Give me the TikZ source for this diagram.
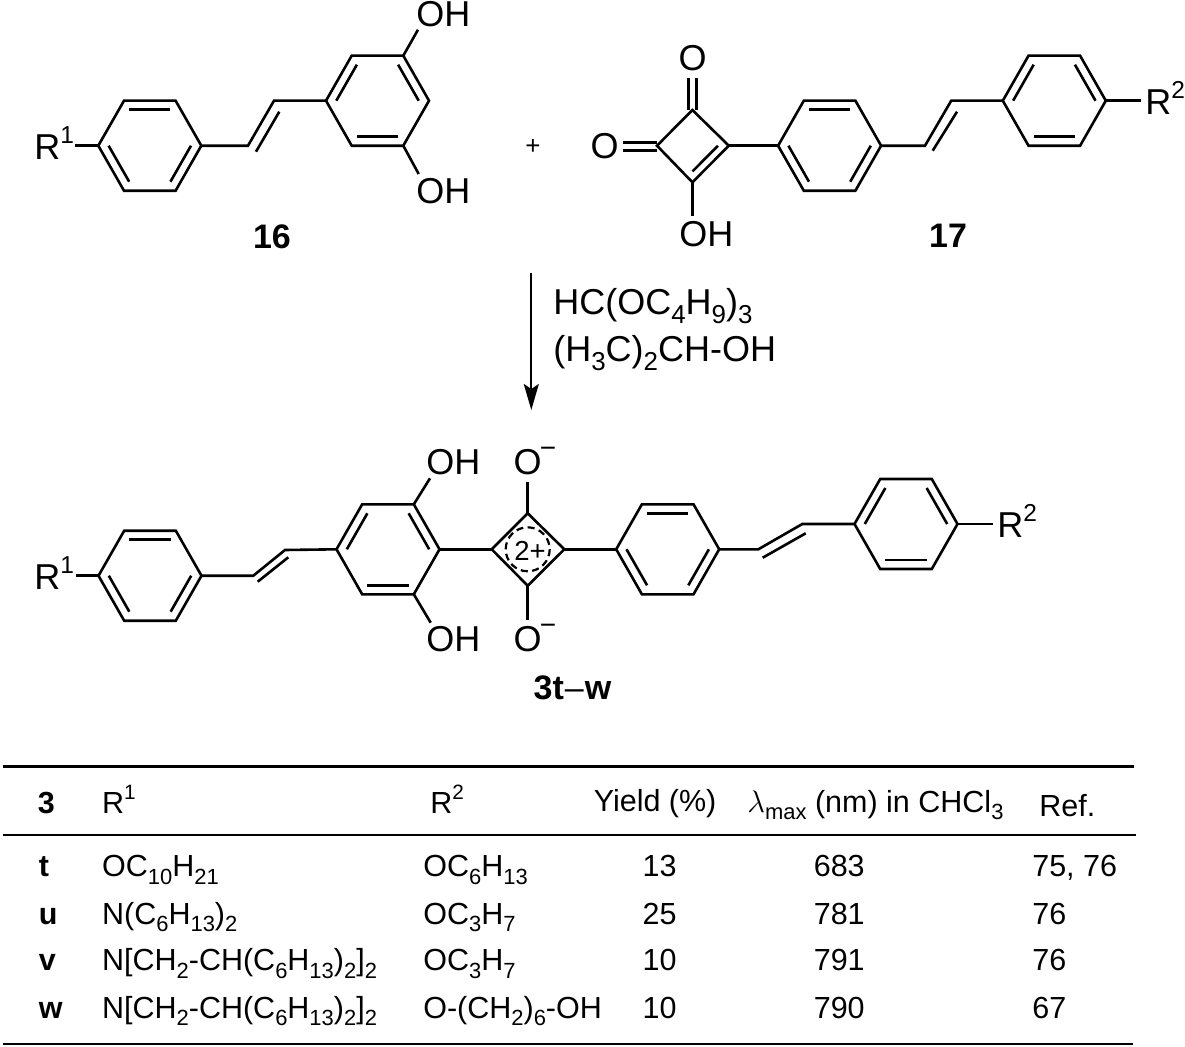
\documentclass[tikz,border=0pt]{standalone}
\usepackage{fontspec}
\setmainfont{Liberation Sans}
\usetikzlibrary{calc,arrows.meta}

\newcommand{\lo}[1]{\raisebox{-.25em}{\scalebox{.72}{#1}}}
\newcommand{\hi}[1]{\raisebox{.44em}{\scalebox{.68}{#1}}}

% six corners and the middle of a ring, then its outline
\newcommand{\hexring}[3]{
  \coordinate (#1c) at (#2,#3);
  \coordinate (#1w) at ({#2-51.5},#3);
  \coordinate (#1nw) at ({#2-25.8},{#3-45});
  \coordinate (#1ne) at ({#2+25.8},{#3-45});
  \coordinate (#1e) at ({#2+51.5},#3);
  \coordinate (#1se) at ({#2+25.8},{#3+45});
  \coordinate (#1sw) at ({#2-25.8},{#3+45});
  \draw (#1w) -- (#1nw) -- (#1ne) -- (#1e) -- (#1se) -- (#1sw) -- cycle;
}
% inner line of a double bond
\newcommand{\inbond}[3]{\draw ($(#1)!.2!(#3)$) -- ($(#2)!.2!(#3)$);}

\tikzset{
  atomlabel/.style={inner sep=0pt,anchor=base west,font=\fontsize{36}{40}\selectfont},
  reagent/.style={inner sep=0pt,anchor=base west,font=\fontsize{36}{40}\selectfont},
  compound/.style={inner sep=0pt,anchor=base,font=\fontsize{34}{40}\selectfont\bfseries},
  cell/.style={inner sep=0pt,anchor=base west,font=\fontsize{30.5}{36}\selectfont},
  midcell/.style={cell,anchor=base},
  boldcell/.style={cell,font=\fontsize{30.5}{36}\selectfont\bfseries},
  rulerow/.style={line width=2.5pt}
}

\begin{document}
\begin{tikzpicture}[x=1pt,y=-1pt,line width=2.6pt]

  \useasboundingbox (0,0) rectangle (1185,1046);

  % compound 16
  \hexring{A}{149.8}{145.7}
  \hexring{B}{377.5}{100.7}
  \inbond{Anw}{Ane}{Ac}
  \inbond{Aw}{Asw}{Ac}
  \inbond{Ae}{Ase}{Ac}
  \inbond{Bw}{Bnw}{Bc}
  \inbond{Bne}{Be}{Bc}
  \inbond{Bse}{Bsw}{Bc}
  \coordinate (Aone) at (248,145.7);
  \coordinate (Atwo) at (274,100.7);
  \coordinate (Aonei) at (256,151.7);
  \coordinate (Atwoi) at (279.3,111.7);
  \coordinate (Ara) at (75,145.7);
  \coordinate (Boh) at (418,29.7);
  \coordinate (Bohb) at (418.7,174);
  \draw (Ae) -- (Aone) -- (Atwo) -- (Bw);
  \draw (Aonei) -- (Atwoi);
  \draw (Ara) -- (Aw);
  \draw (Bne) -- (Boh);
  \draw (Bse) -- (Bohb);
  \node[atomlabel] (ra) at (33,159) {R\hi{1}};
  \node[atomlabel] (oha) at (415,27) {OH};
  \node[atomlabel] (ohb) at (415,203) {OH};
  \node[compound] (cpa) at (272,248) {16};

  \node[inner sep=0pt,font=\fontsize{26}{30}\selectfont] (plus) at (533,147) {+};

  % compound 17
  \coordinate (Qn) at (692.4,110);
  \coordinate (Qw) at (657,145.7);
  \coordinate (Qe) at (728.8,145.7);
  \coordinate (Qs) at (692.4,182.3);
  \coordinate (Qc) at (692.6,146);
  \draw (Qn) -- (Qe) -- (Qs) -- (Qw) -- cycle;
  \draw ($(Qe)!.3!(Qc)$) -- ($(Qs)!.3!(Qc)$);
  \coordinate (Qna) at (688.4,110);
  \coordinate (Qnb) at (696.7,110);
  \coordinate (Ona) at (688.4,78.3);
  \coordinate (Onb) at (696.7,78.3);
  \coordinate (Qwa) at (657,142.3);
  \coordinate (Qwb) at (657,150.3);
  \coordinate (Owa) at (623,142.3);
  \coordinate (Owb) at (623,150.3);
  \coordinate (Qoh) at (692.4,216);
  \draw (Qna) -- (Ona);
  \draw (Qnb) -- (Onb);
  \draw (Qwa) -- (Owa);
  \draw (Qwb) -- (Owb);
  \draw (Qs) -- (Qoh);
  \hexring{C}{829.6}{145.7}
  \hexring{D}{1054.3}{100.7}
  \inbond{Cnw}{Cne}{Cc}
  \inbond{Cw}{Csw}{Cc}
  \inbond{Ce}{Cse}{Cc}
  \inbond{Dw}{Dnw}{Dc}
  \inbond{Dne}{De}{Dc}
  \inbond{Dse}{Dsw}{Dc}
  \coordinate (Cone) at (925,145.7);
  \coordinate (Ctwo) at (951.2,100.7);
  \coordinate (Conei) at (932.7,150.7);
  \coordinate (Ctwoi) at (957,111.7);
  \coordinate (Drb) at (1140.6,100.7);
  \draw (Qe) -- (Cw);
  \draw (Ce) -- (Cone) -- (Ctwo) -- (Dw);
  \draw (Conei) -- (Ctwoi);
  \draw (De) -- (Drb);
  \node[atomlabel,anchor=base] (ot) at (692.5,70.5) {O};
  \node[atomlabel,anchor=base] (ol) at (604.5,158) {O};
  \node[atomlabel] (ohc) at (678,246.7) {OH};
  \node[atomlabel] (rb) at (1144,114) {R\hi{2}};
  \node[compound] (cpb) at (948,247) {17};

  % arrow
  \coordinate (arrowtop) at (531.3,273);
  \coordinate (arrowtip) at (531.3,410);
  \draw[-{Stealth[length=26pt,width=15pt,inset=5pt]},line width=2.2pt] (arrowtop) -- (arrowtip);
  \node[reagent] (rga) at (552,314) {HC(OC\lo{4}H\lo{9})\lo{3}};
  \node[reagent] (rgb) at (552,361.7) {(H\lo{3}C)\lo{2}CH-OH};

  % product 3
  \hexring{E}{150}{575.7}
  \hexring{F}{388}{549.3}
  \hexring{G}{667.7}{549.3}
  \hexring{H}{906}{524}
  \inbond{Enw}{Ene}{Ec}
  \inbond{Ew}{Esw}{Ec}
  \inbond{Ee}{Ese}{Ec}
  \inbond{Fw}{Fnw}{Fc}
  \inbond{Fne}{Fe}{Fc}
  \inbond{Fse}{Fsw}{Fc}
  \inbond{Gnw}{Gne}{Gc}
  \inbond{Gw}{Gsw}{Gc}
  \inbond{Ge}{Gse}{Gc}
  \inbond{Hw}{Hnw}{Hc}
  \inbond{Hne}{He}{Hc}
  \inbond{Hse}{Hsw}{Hc}
  \coordinate (Eone) at (253.3,575.7);
  \coordinate (Etwo) at (285,550);
  \coordinate (Eonei) at (257.7,581.7);
  \coordinate (Etwoi) at (288.3,557.3);
  \coordinate (Era) at (76,575.7);
  \coordinate (Foh) at (430,478.3);
  \coordinate (Fohb) at (430.7,622.7);
  \coordinate (Gone) at (758.3,549.3);
  \coordinate (Gtwo) at (802.3,524);
  \coordinate (Gonei) at (762.7,557.7);
  \coordinate (Gtwoi) at (805.7,533.3);
  \coordinate (Hrb) at (992.7,524);
  \coordinate (Sw) at (491.7,549.3);
  \coordinate (Sn) at (527.7,513.3);
  \coordinate (Se) at (564.3,549.3);
  \coordinate (Ss) at (527.7,585.7);
  \coordinate (Sc) at (527.7,549.3);
  \coordinate (Son) at (527.7,481.7);
  \coordinate (Sos) at (527.7,620);
  \draw (Era) -- (Ew);
  \draw (Ee) -- (Eone) -- (Etwo) -- (Fw);
  \draw (Eonei) -- (Etwoi);
  \draw (Fne) -- (Foh);
  \draw (Fse) -- (Fohb);
  \draw (Fe) -- (Sw);
  \draw (Sw) -- (Sn) -- (Se) -- (Ss) -- cycle;
  \draw (Sn) -- (Son);
  \draw (Ss) -- (Sos);
  \draw (Se) -- (Gw);
  \draw (Ge) -- (Gone) -- (Gtwo) -- (Hw);
  \draw (Gonei) -- (Gtwoi);
  \draw (He) -- (Hrb);
  \draw[dashed,dash pattern=on 7pt off 4.5pt,line width=2.2pt] (Sc) circle[radius=22];
  \node[inner sep=0pt,anchor=base,font=\fontsize{27.5}{30}\selectfont] (chg) at (530,560.7) {2+};
  \node[atomlabel] (re) at (33,589) {R\hi{1}};
  \node[atomlabel] (ohd) at (425,474) {OH};
  \node[atomlabel] (ohe) at (425,651.7) {OH};
  \node[atomlabel,anchor=base] (oa) at (527.7,474.5) {O};
  \node[atomlabel,anchor=base] (ob) at (527.7,651.5) {O};
  \node[inner sep=0pt,anchor=base,font=\fontsize{28}{30}\selectfont] (ma) at (548,457.5) {−};
  \node[inner sep=0pt,anchor=base,font=\fontsize{28}{30}\selectfont] (mb) at (548,634) {−};
  \node[atomlabel] (rf) at (996,537) {R\hi{2}};
  \node[compound] (cpc) at (572.5,699) {3t\kern1pt\textmd{–}\kern1pt w};

  % table rules
  \coordinate (ruleal) at (3,766.7);
  \coordinate (rulear) at (1134,766.7);
  \coordinate (rulebl) at (3,835);
  \coordinate (rulebr) at (1136,835);
  \coordinate (rulecl) at (3,1044);
  \coordinate (rulecr) at (1133,1044);
  \draw[rulerow] (ruleal) -- (rulear);
  \draw[rulerow] (rulebl) -- (rulebr);
  \draw[rulerow] (rulecl) -- (rulecr);

  % table head
  \node[boldcell] (hid) at (36.5,813) {3};
  \node[cell] (hra) at (100.8,813) {R\hi{1}};
  \node[cell] (hrb) at (429,813) {R\hi{2}};
  \node[cell] (hyd) at (592.5,811.7) {Yield (\%)};
  \node[cell] (hlm) at (746,812) {\scalebox{1.25}{$\lambda$}\lo{max} (nm) in CHCl\lo{3}};
  \node[cell] (hrf) at (1038,816) {Ref.};

  % table rows
  \node[boldcell] (tid) at (37.5,876.7) {t};
  \node[cell] (tra) at (100.8,876.7) {OC\lo{10}H\lo{21}};
  \node[cell] (trb) at (422,876.7) {OC\lo{6}H\lo{13}};
  \node[midcell] (tyd) at (659.5,876.7) {13};
  \node[cell] (tlm) at (812.5,876.7) {683};
  \node[cell] (trf) at (1031,876.7) {75, 76};

  \node[boldcell] (uid) at (37.5,924) {u};
  \node[cell] (ura) at (100.8,924) {N(C\lo{6}H\lo{13})\lo{2}};
  \node[cell] (urb) at (422,924) {OC\lo{3}H\lo{7}};
  \node[midcell] (uyd) at (659.5,924) {25};
  \node[cell] (ulm) at (812.5,924) {781};
  \node[cell] (urf) at (1031,924) {76};

  \node[boldcell] (vid) at (37.5,970.7) {v};
  \node[cell] (vra) at (100.8,970.7) {N[CH\lo{2}-CH(C\lo{6}H\lo{13})\lo{2}]\lo{2}};
  \node[cell] (vrb) at (422,970.7) {OC\lo{3}H\lo{7}};
  \node[midcell] (vyd) at (659.5,970.7) {10};
  \node[cell] (vlm) at (812.5,970.7) {791};
  \node[cell] (vrf) at (1031,970.7) {76};

  \node[boldcell] (wid) at (37.5,1018.3) {w};
  \node[cell] (wra) at (100.8,1018.3) {N[CH\lo{2}-CH(C\lo{6}H\lo{13})\lo{2}]\lo{2}};
  \node[cell] (wrb) at (422,1018.3) {O-(CH\lo{2})\lo{6}-OH};
  \node[midcell] (wyd) at (659.5,1018.3) {10};
  \node[cell] (wlm) at (812.5,1018.3) {790};
  \node[cell] (wrf) at (1031,1018.3) {67};

\end{tikzpicture}
\end{document}
